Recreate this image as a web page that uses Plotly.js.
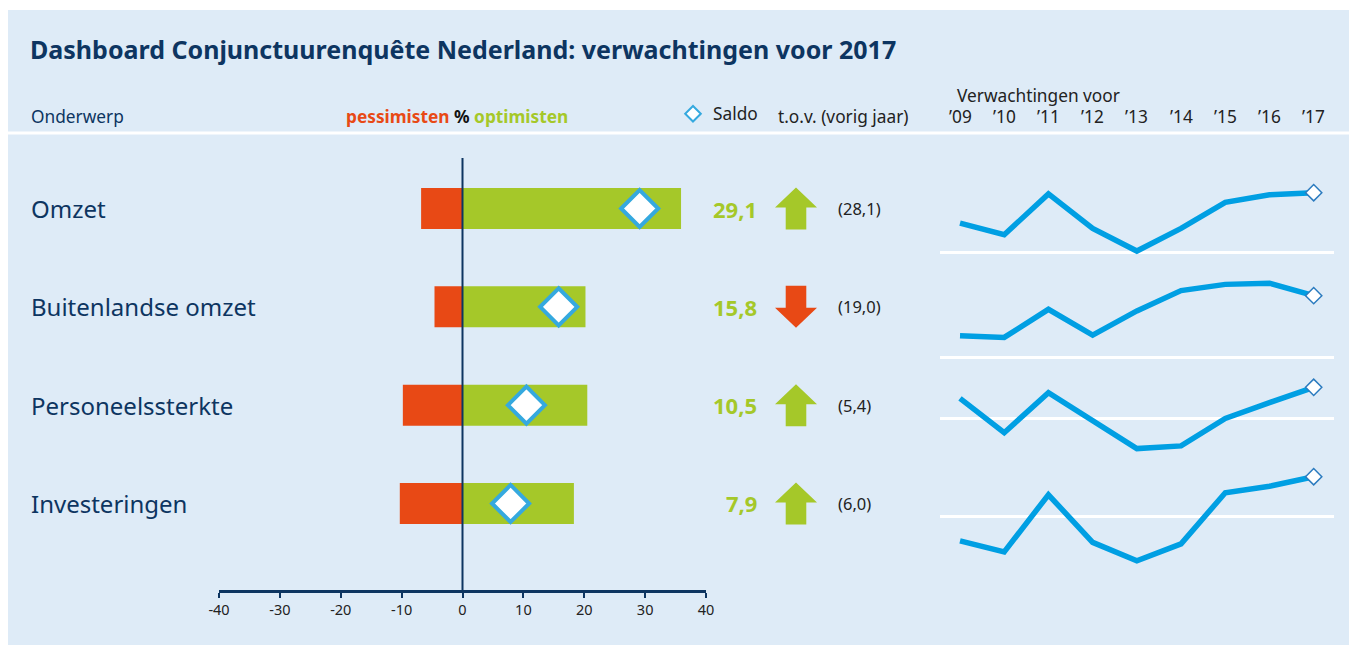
<!DOCTYPE html>
<html>
<head>
<meta charset="utf-8">
<script src="https://cdn.plot.ly/plotly-3.0.1.min.js"></script>
<style>html,body{margin:0;padding:0;background:#ffffff;}</style>
</head>
<body>
<div id="chart" style="width:1357px;height:655px;"></div>
<script>
// ---------------- DATA ----------------
const categories = ['Omzet', 'Buitenlandse omzet', 'Personeelssterkte', 'Investeringen'];
const pessimists = [6.8, 4.6, 9.8, 10.3];
const optimists = [35.9, 20.2, 20.5, 18.3];
const saldo = [29.1, 15.8, 10.5, 7.9];
const previousYear = [28.1, 19.0, 5.4, 6.0];
const years = [2009, 2010, 2011, 2012, 2013, 2014, 2015, 2016, 2017];
const yearLabels = ['’09', '’10', '’11', '’12', '’13', '’14', '’15', '’16', '’17'];
const historyOmzet = [14.3, 8.7, 28.5, 11.8, 0.8, 11.8, 24.4, 28.1, 29.1];
const historyBuitenlandseOmzet = [5.5, 5.1, 12.3, 5.7, 11.9, 17.1, 18.7, 19.0, 15.8];
const historyPersoneelssterkte = [6.8, -4.7, 8.7, -0.4, -10.0, -9.1, 0.1, 5.4, 10.5];
const historyInvesteringen = [-4.9, -7.1, 4.3, -5.2, -8.9, -5.5, 4.7, 6.0, 7.9];
const axisTickValues = [-40, -30, -20, -10, 0, 10, 20, 30, 40];
const axisTickLabels = ['-40', '-30', '-20', '-10', '0', '10', '20', '30', '40'];
const histories = [historyOmzet, historyBuitenlandseOmzet, historyPersoneelssterkte, historyInvesteringen];

// ---------------- STYLE / LAYOUT HELPERS ----------------
const W = 1357, H = 655;
const px = p => p / W;
const py = p => 1 - p / H;
const NAVY = '#0d3561', GREEN = '#a5c829', RED = '#e84915', BLUE = '#009fe3', DIAM = '#35a9df', DARK = '#222222';
const FONT = 'Noto Sans, Open Sans, sans-serif';
const HDR = 17.3;
const fmt = v => v.toFixed(1).replace('.', ',');

// bar area geometry
const rowTop = 208.5, rowStep = 98.33, barTopPx = 158, barBotPx = 590;
const yRange = [(barBotPx - rowTop) / rowStep, (barTopPx - rowTop) / rowStep];
const rows = categories.map((c, i) => i);

const traces = [];
traces.push({
  type: 'bar', orientation: 'h', y: rows, x: pessimists.map(v => -v),
  width: 0.417, marker: {color: RED, line: {width: 0}}, xaxis: 'x', yaxis: 'y',
  showlegend: false, hoverinfo: 'skip'
});
traces.push({
  type: 'bar', orientation: 'h', y: rows, x: optimists,
  width: 0.417, marker: {color: GREEN, line: {width: 0}}, xaxis: 'x', yaxis: 'y',
  showlegend: false, hoverinfo: 'skip'
});
traces.push({
  type: 'scatter', mode: 'markers', y: rows, x: saldo, name: 'Saldo',
  marker: {symbol: 'diamond', size: 28.5, color: '#ffffff', line: {color: DIAM, width: 4}},
  xaxis: 'x', yaxis: 'y', cliponaxis: false, showlegend: true, hoverinfo: 'skip'
});

// arrows (direction from saldo vs previous year)
const arrowH = 42 / rowStep, headH = 20 / rowStep, stemW = 0.49;
rows.forEach(i => {
  const up = saldo[i] >= previousYear[i];
  const d = up ? 1 : -1;
  const tip = -arrowH / 2, hb = -arrowH / 2 + headH, end = arrowH / 2;
  const pts = [[0, tip], [1, hb], [stemW, hb], [stemW, end], [-stemW, end], [-stemW, hb], [-1, hb], [0, tip]];
  traces.push({
    type: 'scatter', mode: 'lines', fill: 'toself',
    x: pts.map(p => p[0]), y: pts.map(p => i + d * p[1]),
    fillcolor: up ? GREEN : RED, line: {width: 0, color: up ? GREEN : RED},
    xaxis: 'x3', yaxis: 'y', showlegend: false, hoverinfo: 'skip'
  });
});

// sparklines
const zeroPx = [252.7, 357.3, 418.7, 516.3];
const pxPerUnit = [2.062, 3.9, 2.99, 5.01];
const sparkAxes = {};
histories.forEach((h, i) => {
  const ya = 'y' + (i + 2);
  traces.push({
    type: 'scatter', mode: 'lines', x: years, y: h,
    line: {color: BLUE, width: 5.5}, xaxis: 'x2', yaxis: ya,
    cliponaxis: false, showlegend: false, hoverinfo: 'skip'
  });
  traces.push({
    type: 'scatter', mode: 'markers', x: [years[years.length - 1]], y: [h[h.length - 1]],
    marker: {symbol: 'diamond', size: 12.5, color: '#ffffff', line: {color: '#2b7bbf', width: 1.5}},
    xaxis: 'x2', yaxis: ya, cliponaxis: false, showlegend: false, hoverinfo: 'skip'
  });
  const top = zeroPx[i] - 80, bot = zeroPx[i] + 50;
  sparkAxes['yaxis' + (i + 2)] = {
    domain: [py(bot), py(top)], range: [-50 / pxPerUnit[i], 80 / pxPerUnit[i]],
    anchor: 'x2', showgrid: false, showticklabels: false, ticks: '', showline: false,
    zeroline: true, zerolinecolor: '#ffffff', zerolinewidth: 3, fixedrange: true
  };
});

// ---------------- ANNOTATIONS ----------------
const annotations = [];
rows.forEach(i => {
  annotations.push({xref: 'paper', yref: 'y', x: px(29), y: i, xanchor: 'left', yanchor: 'middle',
    text: categories[i], showarrow: false, font: {family: FONT, size: 24, color: NAVY}});
  annotations.push({xref: 'paper', yref: 'y', x: px(759), y: i, xanchor: 'right', yanchor: 'middle',
    text: '<b>' + fmt(saldo[i]) + '</b>', showarrow: false, font: {family: FONT, size: 22, color: GREEN}});
  annotations.push({xref: 'paper', yref: 'y', x: px(836), y: i, xanchor: 'left', yanchor: 'middle',
    text: '(' + fmt(previousYear[i]) + ')', showarrow: false, font: {family: FONT, size: 16.5, color: DARK}});
});
annotations.push({xref: 'paper', yref: 'paper', x: px(29), y: py(116), xanchor: 'left', yanchor: 'middle',
  text: 'Onderwerp', showarrow: false, font: {family: FONT, size: HDR, color: NAVY}});
annotations.push({xref: 'paper', yref: 'paper', x: px(457), y: py(116), xanchor: 'center', yanchor: 'middle',
  text: '<b><span style="color:' + RED + '">pessimisten</span> <span style="color:#111">%</span> <span style="color:' + GREEN + '">optimisten</span></b>',
  showarrow: false, font: {family: FONT, size: HDR, color: DARK}});
annotations.push({xref: 'paper', yref: 'paper', x: px(776), y: py(116), xanchor: 'left', yanchor: 'middle',
  text: 't.o.v. (vorig jaar)', showarrow: false, font: {family: FONT, size: HDR, color: DARK}});
annotations.push({xref: 'paper', yref: 'paper', x: px(955), y: py(95), xanchor: 'left', yanchor: 'middle',
  text: 'Verwachtingen voor', showarrow: false, font: {family: FONT, size: HDR, color: DARK}});
years.forEach((yr, i) => {
  annotations.push({xref: 'x2', yref: 'paper', x: yr, y: py(117), xanchor: 'center', yanchor: 'middle',
    text: yearLabels[i], showarrow: false, font: {family: FONT, size: HDR, color: DARK}});
});

// ---------------- LAYOUT ----------------
const layout = Object.assign({
  width: W, height: H,
  margin: {l: 0, r: 0, t: 0, b: 0, pad: 0},
  paper_bgcolor: '#ffffff', plot_bgcolor: 'rgba(0,0,0,0)',
  font: {family: FONT, color: DARK},
  barmode: 'overlay',
  title: {text: 'Dashboard Conjunctuurenquête Nederland: verwachtingen voor 2017',
    x: px(30), xanchor: 'left', xref: 'paper', y: py(50), yanchor: 'middle', yref: 'paper',
    font: {family: FONT, size: 25, color: NAVY, weight: 'bold'}},
  showlegend: true,
  legend: {orientation: 'h', x: px(673), y: py(114), xanchor: 'left', yanchor: 'middle',
    bgcolor: 'rgba(0,0,0,0)', borderwidth: 0, itemsizing: 'constant',
    font: {family: FONT, size: HDR, color: DARK}},
  xaxis: {domain: [px(219), px(706)], range: [-40, 40], anchor: 'y',
    tickvals: axisTickValues, ticktext: axisTickLabels,
    showgrid: false, zeroline: false, showline: true, linecolor: NAVY, linewidth: 3,
    ticks: 'outside', ticklen: 5, tickwidth: 2, tickcolor: NAVY,
    tickfont: {family: FONT, size: 14.5, color: DARK}, fixedrange: true},
  yaxis: {domain: [py(barBotPx), py(barTopPx)], range: yRange, anchor: 'x',
    visible: false, showgrid: false, zeroline: false, fixedrange: true},
  xaxis2: {domain: [px(940), px(1334)], range: [2009 - 20 / 44.2, 2017 + 20.3 / 44.2], anchor: 'y2',
    visible: false, showgrid: false, zeroline: false, fixedrange: true},
  xaxis3: {domain: [px(775), px(817)], range: [-1, 1], anchor: 'y',
    visible: false, showgrid: false, zeroline: false, fixedrange: true},
  shapes: [
    {type: 'rect', xref: 'paper', yref: 'paper', x0: px(8), x1: px(1349), y0: py(645), y1: py(10),
      fillcolor: '#deebf7', line: {width: 0}, layer: 'below'},
    {type: 'line', xref: 'paper', yref: 'paper', x0: px(8), x1: px(1349), y0: py(133), y1: py(133),
      line: {color: '#ffffff', width: 3}, layer: 'below'},
    {type: 'line', xref: 'x', yref: 'paper', x0: 0, x1: 0, y0: py(barBotPx), y1: py(barTopPx),
      line: {color: NAVY, width: 2}, layer: 'above'}
  ],
  annotations: annotations
}, sparkAxes);

Plotly.newPlot('chart', traces, layout, {displayModeBar: false, staticPlot: true});
</script>
</body>
</html>
